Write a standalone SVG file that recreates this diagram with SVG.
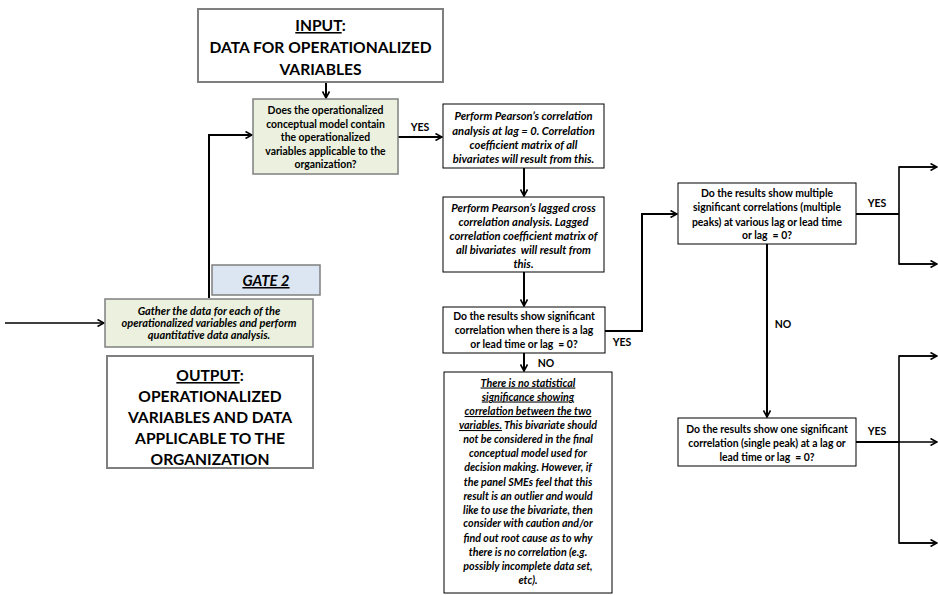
<svg xmlns="http://www.w3.org/2000/svg" width="938" height="595" viewBox="0 0 938 595">
  <defs>
    <marker id="arr" viewBox="0 0 8 8" refX="7.5" refY="4" markerWidth="8" markerHeight="8" markerUnits="userSpaceOnUse" orient="auto">
      <path d="M1,0.5 L7.5,4 L1,7.5" fill="none" stroke="#000" stroke-width="1.6"/>
    </marker>
  </defs>
  <style>
    text { font-family: "Lato", "Open Sans", "Liberation Sans", sans-serif; font-weight: bold; fill: #000; text-anchor: middle; }
    .big { font-size: 15.6px; }
    .q { font-size: 10.4px; }
    .it { font-style: italic; }
    .p { font-size: 11.2px; }
    .n { font-size: 10.7px; }
    .lbl { font-size: 10.5px; }
    .u { text-decoration: underline; }
    .hl { stroke: #7f7f7f; stroke-width: 2; }
    .plain { fill: #fff; stroke: #000; stroke-width: 1; }
    .conn path, .conn line { fill: none; stroke: #000; stroke-width: 2; }
    .conn .thin { stroke-width: 1.6; }
  </style>
  <rect width="938" height="595" fill="#fff"/>

  <!-- connectors -->
  <g class="conn">
    <line x1="326" y1="82" x2="326" y2="98" marker-end="url(#arr)"/>
    <line x1="398" y1="137" x2="442" y2="137" marker-end="url(#arr)"/>
    <path d="M209,298 V135 H252" marker-end="url(#arr)"/>
    <line class="thin" x1="5" y1="323" x2="104" y2="323" marker-end="url(#arr)"/>
    <line x1="524" y1="168" x2="524" y2="196" marker-end="url(#arr)"/>
    <line x1="524" y1="272" x2="524" y2="306" marker-end="url(#arr)"/>
    <line x1="524" y1="353" x2="524" y2="371" marker-end="url(#arr)"/>
    <path d="M605,331 H642 V214 H677" marker-end="url(#arr)"/>
    <line x1="767" y1="244" x2="767" y2="417" marker-end="url(#arr)"/>
    <line x1="856" y1="214" x2="899" y2="214"/>
    <path class="thin" d="M937,167 H899 V264 H937"/>
    <line class="thin" x1="899" y1="167" x2="937" y2="167" marker-end="url(#arr)"/>
    <line class="thin" x1="899" y1="264" x2="937" y2="264" marker-end="url(#arr)"/>
    <line x1="856" y1="442" x2="899" y2="442"/>
    <path class="thin" d="M937,356 H899 V543 H937"/>
    <line class="thin" x1="899" y1="356" x2="937" y2="356" marker-end="url(#arr)"/>
    <line class="thin" x1="899" y1="442" x2="937" y2="442" marker-end="url(#arr)"/>
    <line class="thin" x1="899" y1="543" x2="937" y2="543" marker-end="url(#arr)"/>
  </g>

  <!-- connector labels -->
  <g id="labels">
    <text class="lbl" x="420" y="131">YES</text>
    <text class="lbl" x="622" y="346">YES</text>
    <text class="lbl" x="546" y="367">NO</text>
    <text class="lbl" x="783" y="328">NO</text>
    <text class="lbl" x="877" y="207">YES</text>
    <text class="lbl" x="877" y="435">YES</text>
  </g>

  <g id="input">
    <rect class="hl" x="198" y="9" width="245" height="73" fill="#fff"/>
    <text class="big" x="320.5" y="31"><tspan class="u">INPUT</tspan>:</text>
    <text class="big" x="320.5" y="53">DATA FOR OPERATIONALIZED</text>
    <text class="big" x="320.5" y="75">VARIABLES</text>
  </g>

  <g id="q-model">
    <rect class="hl" x="253" y="99" width="145" height="75" fill="#ebf1de" style="stroke-width:1.5"/>
    <text class="q" x="325.5" y="114">Does the operationalized</text>
    <text class="q" x="325.5" y="127.5">conceptual model contain</text>
    <text class="q" x="325.5" y="141">the operationalized</text>
    <text class="q" x="325.5" y="154.5">variables applicable to the</text>
    <text class="q" x="325.5" y="168">organization?</text>
  </g>

  <g id="gate2">
    <rect class="hl" x="212" y="265" width="108" height="30" fill="#dce6f2" style="stroke-width:1.5"/>
    <text x="266" y="286" style="font-size:15px;font-style:italic" class="u">GATE 2</text>
  </g>

  <g id="gather">
    <rect class="hl" x="105" y="299" width="208" height="48" fill="#ebf1de" style="stroke-width:1.5"/>
    <text class="it" x="209" y="315" style="font-size:11px">Gather the data for each of the</text>
    <text class="it" x="209" y="327" style="font-size:11px">operationalized variables and perform</text>
    <text class="it" x="209" y="339" style="font-size:11px">quantitative data analysis.</text>
  </g>

  <g id="output">
    <rect class="hl" x="107" y="356" width="206" height="112" fill="#fff"/>
    <text class="big" x="210" y="381"><tspan class="u">OUTPUT</tspan>:</text>
    <text class="big" x="210" y="402">OPERATIONALIZED</text>
    <text class="big" x="210" y="423">VARIABLES AND DATA</text>
    <text class="big" x="210" y="444">APPLICABLE TO THE</text>
    <text class="big" x="210" y="465">ORGANIZATION</text>
  </g>

  <g id="pearson">
    <rect class="plain" x="443" y="104" width="161" height="64"/>
    <text class="it p" x="523.5" y="120">Perform Pearson’s correlation</text>
    <text class="it p" x="523.5" y="134.5">analysis at lag = 0. Correlation</text>
    <text class="it p" x="523.5" y="149">coefficient matrix of all</text>
    <text class="it p" x="523.5" y="163">bivariates will result from this.</text>
  </g>

  <g id="lagged">
    <rect class="plain" x="443" y="197" width="161" height="75"/>
    <text class="it p" x="523.5" y="211.5">Perform Pearson’s lagged cross</text>
    <text class="it p" x="523.5" y="225.5">correlation analysis. Lagged</text>
    <text class="it p" x="523.5" y="240">correlation coefficient matrix of</text>
    <text class="it p" x="523.5" y="253.5" xml:space="preserve">all bivariates  will result from</text>
    <text class="it p" x="523.5" y="267.5">this.</text>
  </g>

  <g id="q-significant">
    <rect class="plain" x="443" y="307" width="162" height="46"/>
    <text class="q" x="524" y="320">Do the results show significant</text>
    <text class="q" x="524" y="334">correlation when there is a lag</text>
    <text class="q" x="524" y="348" xml:space="preserve">or lead time or lag  = 0?</text>
  </g>

  <g id="no-correlation">
    <rect class="plain" x="444" y="372" width="168" height="221"/>
    <text class="it n u" x="528" y="386.5">There is no statistical</text>
    <text class="it n u" x="528" y="400.5">significance showing</text>
    <text class="it n u" x="528" y="415">correlation between the two</text>
    <text class="it n" x="528" y="429"><tspan class="u">variables.</tspan> This bivariate should</text>
    <text class="it n" x="528" y="443">not be considered in the final</text>
    <text class="it n" x="528" y="457">conceptual model used for</text>
    <text class="it n" x="528" y="471">decision making. However, if</text>
    <text class="it n" x="528" y="485.5">the panel SMEs feel that this</text>
    <text class="it n" x="528" y="499.5">result is an outlier and would</text>
    <text class="it n" x="528" y="513.5">like to use the bivariate, then</text>
    <text class="it n" x="528" y="527">consider with caution and/or</text>
    <text class="it n" x="528" y="541.5">find out root cause as to why</text>
    <text class="it n" x="528" y="555.5">there is no correlation (e.g.</text>
    <text class="it n" x="528" y="570">possibly incomplete data set,</text>
    <text class="it n" x="528" y="584">etc).</text>
  </g>

  <g id="q-multiple">
    <rect class="plain" x="678" y="183" width="178" height="61"/>
    <text class="q" x="767" y="197">Do the results show multiple</text>
    <text class="q" x="767" y="211">significant correlations (multiple</text>
    <text class="q" x="767" y="225.5">peaks) at various lag or lead time</text>
    <text class="q" x="767" y="239" xml:space="preserve">or lag  = 0?</text>
  </g>

  <g id="q-single">
    <rect class="plain" x="678" y="418" width="178" height="48"/>
    <text class="q" x="767" y="432.5">Do the results show one significant</text>
    <text class="q" x="767" y="446.5">correlation (single peak) at a lag or</text>
    <text class="q" x="767" y="460.5" xml:space="preserve">lead time or lag  = 0?</text>
  </g>
</svg>
